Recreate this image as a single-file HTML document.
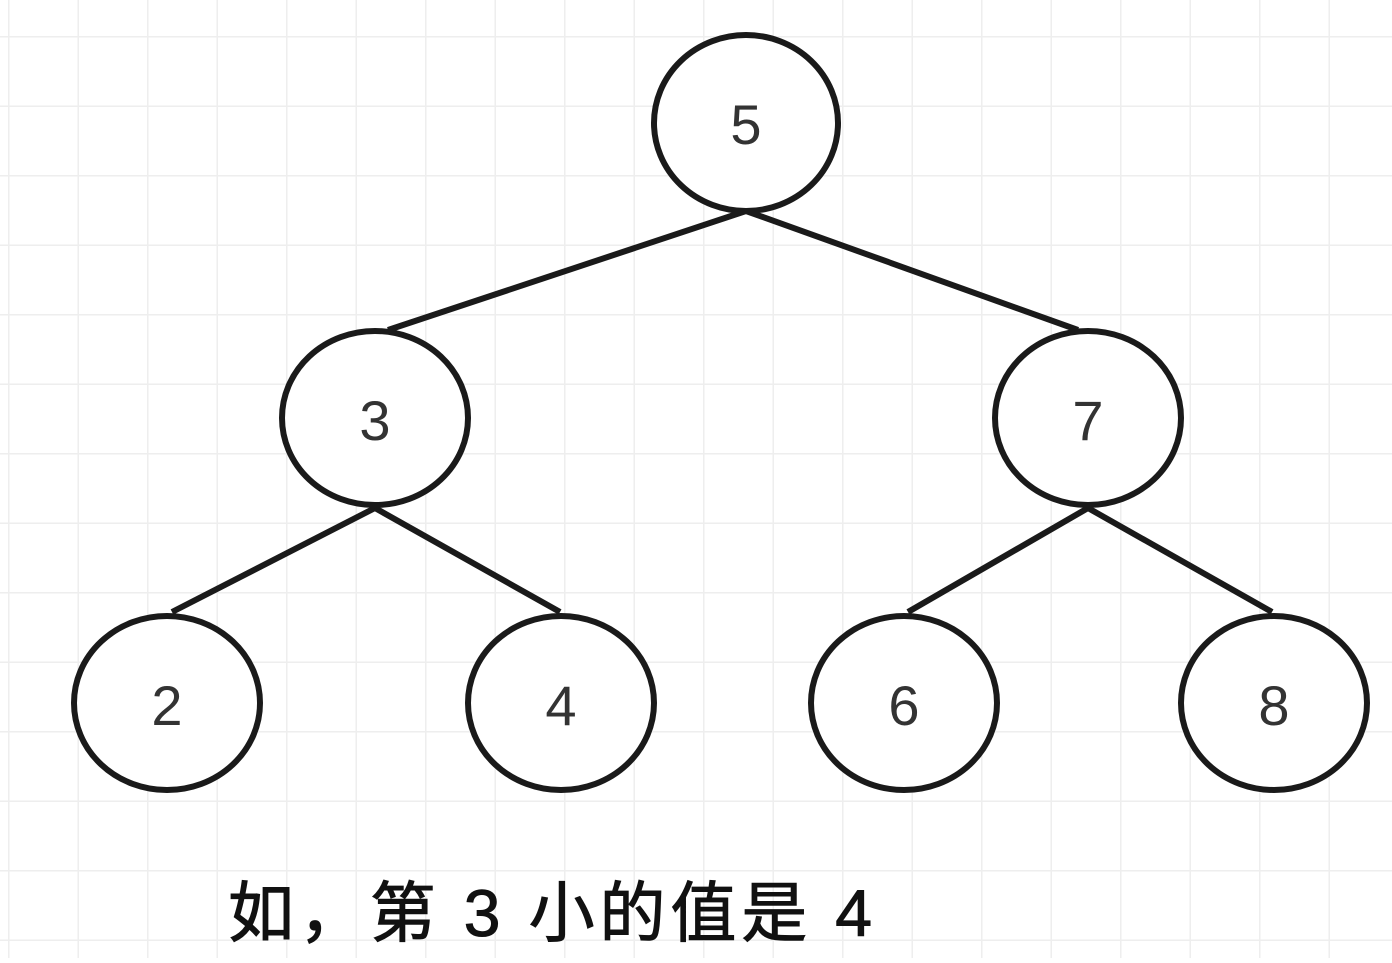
<!DOCTYPE html>
<html><head><meta charset="utf-8"><style>
body{margin:0;background:#fff;}
</style></head><body>
<svg width="1392" height="958" xmlns="http://www.w3.org/2000/svg">
<defs><pattern id="g" x="8" y="36" width="69.5" height="69.5" patternUnits="userSpaceOnUse">
<path d="M0 0V69.5M0 0H69.5" stroke="#eeeeee" stroke-width="3" fill="none"/></pattern></defs>
<rect width="1392" height="958" fill="url(#g)"/>
<g stroke="#1a1a1a" stroke-width="6" fill="none">
<line x1="746" y1="211" x2="388" y2="330"/>
<line x1="746" y1="211" x2="1078" y2="330"/>
<line x1="375" y1="508" x2="172" y2="612"/>
<line x1="375" y1="508" x2="560" y2="612"/>
<line x1="1088" y1="508" x2="908" y2="612"/>
<line x1="1088" y1="508" x2="1272" y2="612"/>
</g>
<g stroke="#1a1a1a" stroke-width="6" fill="#fff">
<ellipse cx="746" cy="123" rx="92" ry="88"/>
<ellipse cx="375" cy="418" rx="93" ry="87"/>
<ellipse cx="1088" cy="418" rx="93" ry="87"/>
<ellipse cx="167" cy="703" rx="93" ry="87"/>
<ellipse cx="561" cy="703" rx="93" ry="87"/>
<ellipse cx="904" cy="703" rx="93" ry="87"/>
<ellipse cx="1274" cy="703" rx="93" ry="87"/>
</g>
<g font-family="Liberation Sans, sans-serif" font-size="56" fill="#333" text-anchor="middle">
<text x="746" y="144">5</text>
<text x="375" y="440">3</text>
<text x="1088" y="440">7</text>
<text x="167" y="725">2</text>
<text x="561" y="725">4</text>
<text x="904" y="725">6</text>
<text x="1274" y="725">8</text>
</g>
<text x="228" y="936" textLength="644" lengthAdjust="spacing" font-family="Liberation Sans, 'Noto Sans CJK SC', sans-serif" font-size="66" fill="#111" stroke="#111" stroke-width="1">如，第 3 小的值是 4</text>
</svg>
</body></html>
